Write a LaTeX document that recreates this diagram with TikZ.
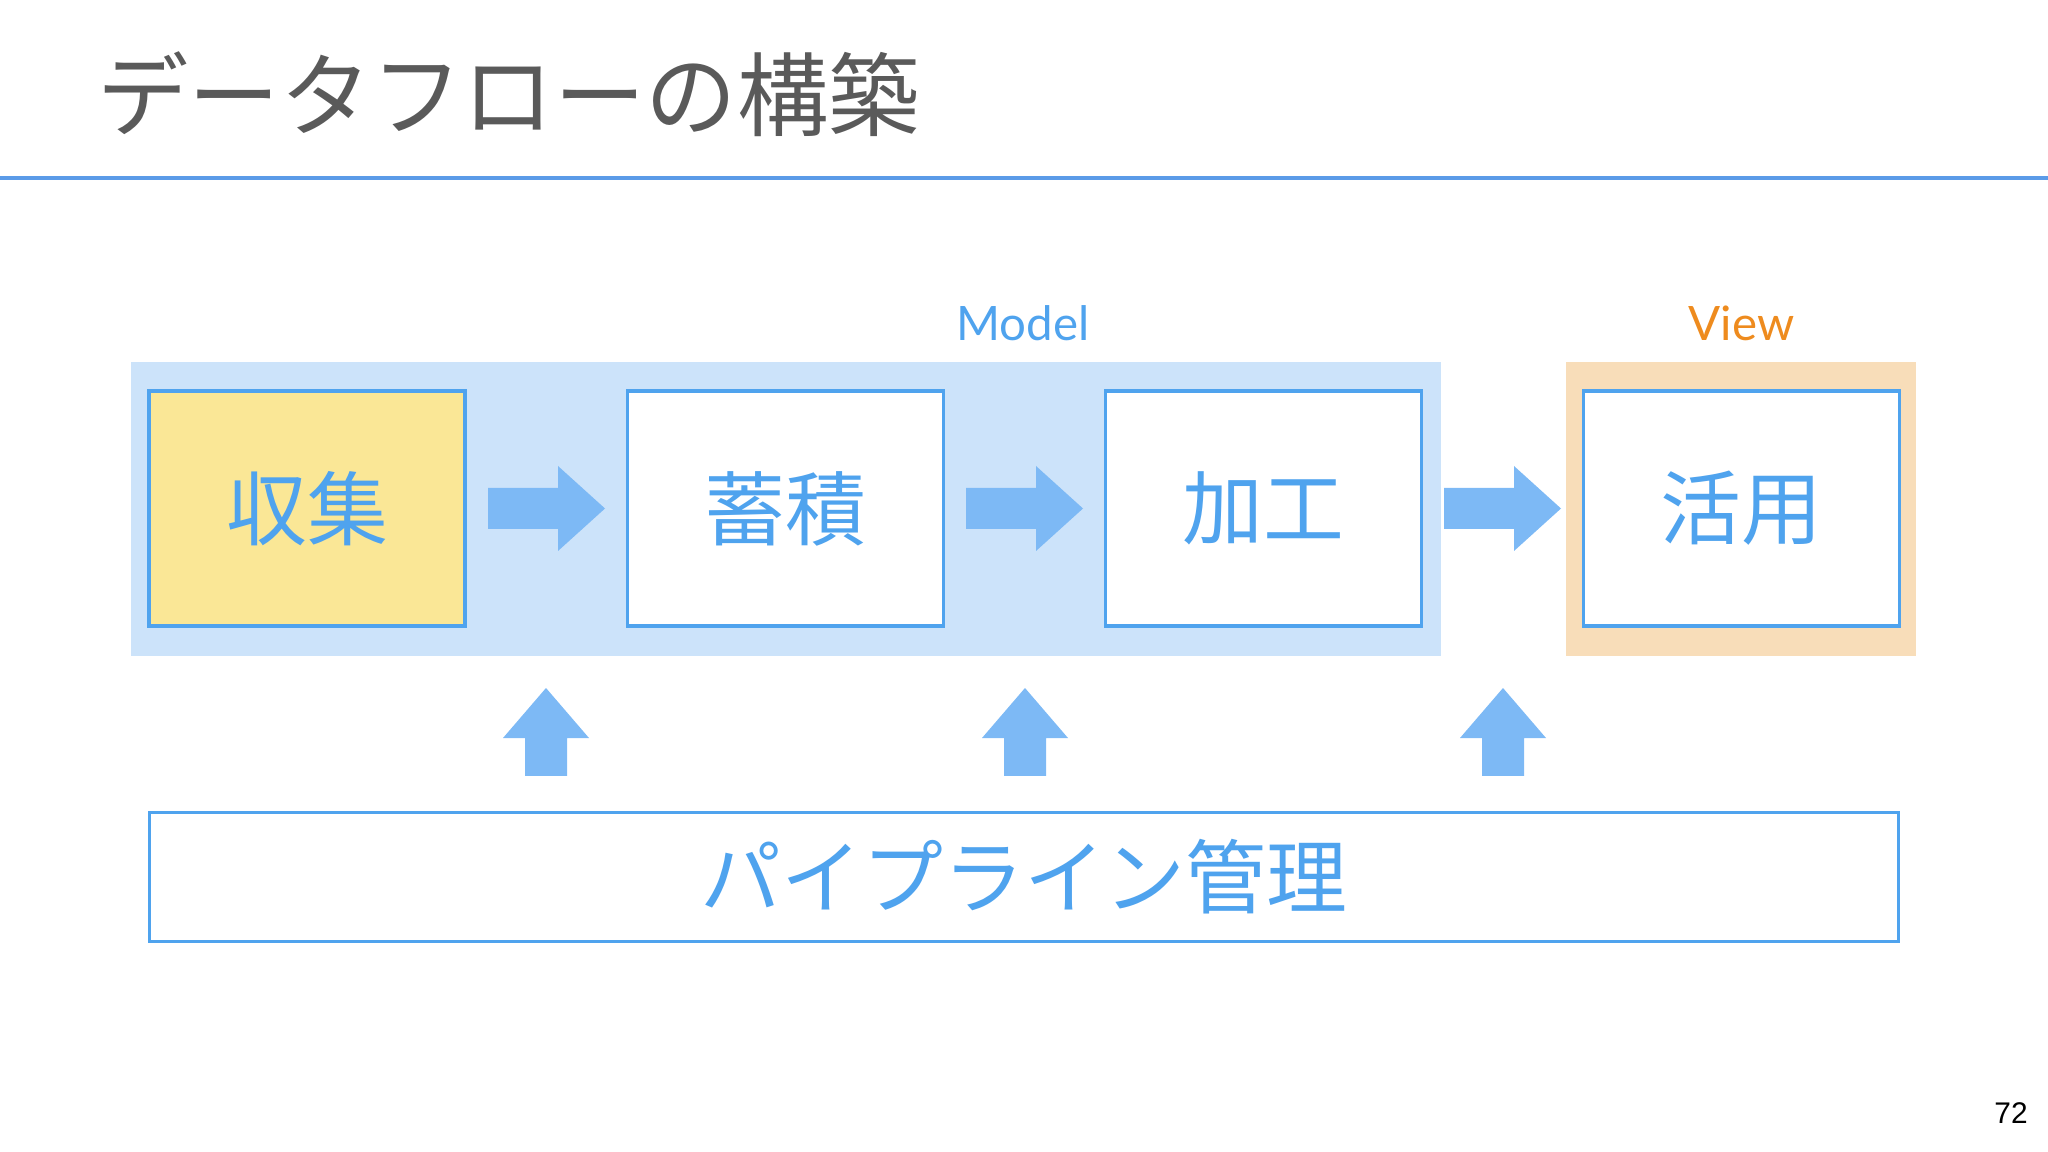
\documentclass[tikz,border=0pt]{standalone}
\usepackage{fontspec}
\setmainfont{Noto Sans CJK JP}
\newfontfamily\labelfont{Lato}
\newfontfamily\pagefont{Liberation Sans}

\definecolor{flowblue}{HTML}{4FA3EE}
\definecolor{arrowblue}{HTML}{7DB9F5}
\definecolor{modelbg}{HTML}{CCE3FA}
\definecolor{viewbg}{HTML}{F8DDB9}
\definecolor{collectfill}{HTML}{FAE796}
\definecolor{titlegray}{HTML}{5A5A5A}
\definecolor{rulecol}{HTML}{5B9BE8}
\definecolor{vieworange}{HTML}{EE8B1E}

\tikzset{
    stage/.style={draw=flowblue, line width=1pt, fill=white, minimum width=3.16cm,
        minimum height=2.35cm, text=flowblue, font=\fontsize{23}{27}\selectfont},
    flowarrow/.style={fill=arrowblue},
    layerlabel/.style={font=\labelfont\fontsize{13.5}{16}\selectfont},
}

\begin{document}
\begin{tikzpicture}

            \useasboundingbox (0,0) rectangle (20.48,-11.52);

            % title
            \node [anchor=west, text=titlegray, font=\fontsize{26}{30}\selectfont] (title) at (0.85,-0.94) {データフローの構築};
            \draw [rulecol, line width=0.9pt] (0,-1.78) -- (20.48,-1.78);

            % layers
            \fill [modelbg] (1.31,-3.62) rectangle (14.41,-6.56);
            \fill [viewbg] (15.66,-3.62) rectangle (19.16,-6.56);
            \node [layerlabel, text=flowblue] (model) at (10.23,-3.23) {Model};
            \node [layerlabel, text=vieworange] (view) at (17.415,-3.23) {View};

            % stages
            \node [stage, fill=collectfill] (collect) at (3.07,-5.085) {収集};
            \node [stage] (store) at (7.855,-5.085) {蓄積};
            \node [stage] (process) at (12.635,-5.085) {加工};
            \node [stage] (use) at (17.415,-5.085) {活用};

            \fill [flowarrow] (4.88,-4.88) -- (5.58,-4.88) -- (5.58,-4.66) -- (6.05,-5.085) -- (5.58,-5.51) -- (5.58,-5.29) -- (4.88,-5.29) -- cycle;
            \fill [flowarrow] (9.66,-4.88) -- (10.36,-4.88) -- (10.36,-4.66) -- (10.83,-5.085) -- (10.36,-5.51) -- (10.36,-5.29) -- (9.66,-5.29) -- cycle;
            \fill [flowarrow] (14.44,-4.88) -- (15.14,-4.88) -- (15.14,-4.66) -- (15.61,-5.085) -- (15.14,-5.51) -- (15.14,-5.29) -- (14.44,-5.29) -- cycle;

            % pipeline
            \fill [flowarrow] (5.25,-7.76) -- (5.25,-7.38) -- (5.03,-7.38) -- (5.46,-6.88) -- (5.89,-7.38) -- (5.67,-7.38) -- (5.67,-7.76) -- cycle;
            \fill [flowarrow] (10.04,-7.76) -- (10.04,-7.38) -- (9.82,-7.38) -- (10.25,-6.88) -- (10.68,-7.38) -- (10.46,-7.38) -- (10.46,-7.76) -- cycle;
            \fill [flowarrow] (14.82,-7.76) -- (14.82,-7.38) -- (14.60,-7.38) -- (15.03,-6.88) -- (15.46,-7.38) -- (15.24,-7.38) -- (15.24,-7.76) -- cycle;

            \node [stage, minimum width=17.49cm, minimum height=1.29cm] (pipeline) at (10.24,-8.77) {パイプライン管理};

            \node [font=\pagefont\fontsize{8.5}{10}\selectfont] (page) at (20.11,-11.13) {72};

\end{tikzpicture}
\end{document}
